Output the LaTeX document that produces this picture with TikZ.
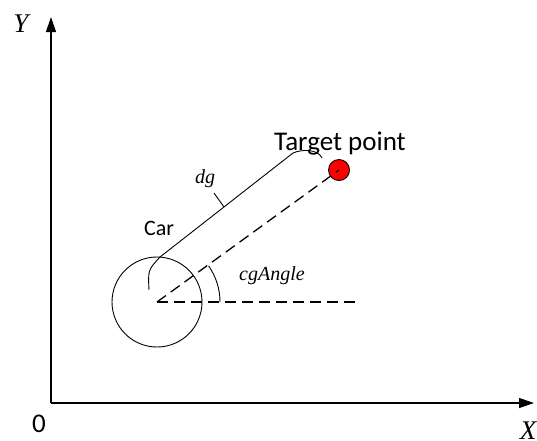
\documentclass[tikz,border=0pt]{standalone}
\usepackage{fontspec}
\setmainfont{Liberation Serif}
\newfontfamily\calib{Carlito}
\usetikzlibrary{arrows.meta}
\begin{document}
\begin{tikzpicture}[x=1pt,y=-1pt,
  axis/.style={line width=1.2pt,-{Triangle[length=15pt,width=10pt]}},
  dashln/.style={line width=1.3pt,dash pattern=on 11pt off 6pt},
  thin/.style={line width=0.9pt},
  sanslbl/.style={font=\calib\fontsize{22}{24}\selectfont,inner sep=0pt},
  biglbl/.style={font=\calib\fontsize{27}{29}\selectfont,inner sep=0pt},
  itlbl/.style={font=\itshape\fontsize{20}{22}\selectfont,inner sep=0pt},
  axlbl/.style={font=\itshape\fontsize{27}{29}\selectfont,inner sep=0pt}]
\useasboundingbox (0,0) rectangle (537,440);
\coordinate (o) at (51,403);
\coordinate (ytip) at (51,17);
\coordinate (xtip) at (534,403);
\draw[axis] (o) -- (ytip);
\draw[axis] (o) -- (xtip);
\node[axlbl] (ylab) at (21,24) {Y};
\node[axlbl] (xlab) at (528,431) {X};
\node[biglbl] (zero) at (39,424) {0};
% car and target
\node[draw,circle,thin,minimum size=90pt,inner sep=0pt] (car) at (157,302) {};
\node[draw,circle,thin,fill=red,minimum size=21pt,inner sep=0pt] (tgt) at (339,170) {};
\coordinate (hend) at (360,302);
\draw[dashln] (car.center) -- (hend);
\draw[dashln] (car.center) -- (tgt.center);
% angle
\draw[thin] (car.center) ++(0:63) arc[start angle=0,end angle=-35,radius=63];
\node[itlbl,anchor=west] (ang) at (239,276) {cgAngle};
% dg brace
\coordinate (b1) at (149,290);
\coordinate (b2) at (160,257);
\coordinate (b3) at (293,153);
\coordinate (b4) at (322,158);
\coordinate (tk1) at (224,207);
\coordinate (tk2) at (214,193);
\draw[thin] (b1) .. controls (148,270) .. (b2) -- (b3) .. controls (302,149) and (318,149) .. (b4);
\draw[thin] (tk1) -- (tk2);
\node[itlbl] (dg) at (205,179) {dg};
\node[sanslbl] (carlbl) at (159,228) {Car};
\node[biglbl,anchor=base] (tgtlbl) at (340,150) {Target point};
\end{tikzpicture}
\end{document}
